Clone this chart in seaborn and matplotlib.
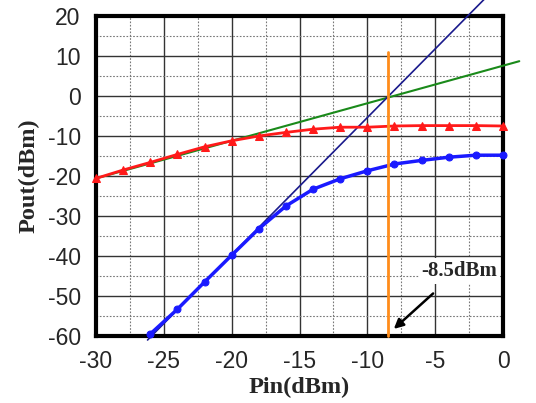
import matplotlib
matplotlib.use("Agg")
import matplotlib.pyplot as plt
import seaborn as sns
import numpy as np
from matplotlib.ticker import MultipleLocator

# ---- data ----
pin_red = [-30, -28, -26, -24, -22, -20, -18, -16, -14, -12, -10, -8, -6, -4, -2, 0]
pout_red = [-20.6, -18.5, -16.6, -14.6, -12.7, -11.2, -10.0, -9.1, -8.3, -7.8, -7.8, -7.5, -7.4, -7.4, -7.4, -7.5]

pin_blue = [-26, -24, -22, -20, -18, -16, -14, -12, -10, -8, -6, -4, -2, 0]
pout_blue = [-59.5, -53.3, -46.5, -39.8, -33.2, -27.5, -23.3, -20.7, -18.7, -17.0, -16.1, -15.3, -14.8, -14.8]

green_x = [-30, 1.2]
green_y = [-20.6, 8.7]
navy_x = [-26.2, -1.0]
navy_y = [-61.0, 25.5]
marker_x = [-8.5, -8.5]
marker_y = [-60, 11]

x_ticks = [-30, -25, -20, -15, -10, -5, 0]
y_ticks = [-60, -50, -40, -30, -20, -10, 0, 10, 20]
xlabel = "Pin(dBm)"
ylabel = "Pout(dBm)"
annot_text = "-8.5dBm"

sns.set_style("white")
plt.rcParams['font.family'] = ['Liberation Sans', 'DejaVu Sans']

fig = plt.figure(figsize=(5.36, 4.03), dpi=100)
ax = fig.add_axes([96/536, 1-336/403, (503-96)/536, (336-16)/403])

ax.set_xlim(-30, 0)
ax.set_ylim(-60, 20)

# grid
ax.xaxis.set_major_locator(MultipleLocator(5))
ax.xaxis.set_minor_locator(MultipleLocator(2.5))
ax.yaxis.set_major_locator(MultipleLocator(10))
ax.yaxis.set_minor_locator(MultipleLocator(5))
ax.grid(which='major', color='#333333', linewidth=1.0, linestyle='-')
ax.grid(which='minor', color='#777777', linewidth=0.8, linestyle=(0, (1.5, 1.5)))
ax.set_axisbelow(True)

sns.lineplot(x=green_x, y=green_y, ax=ax, color='#1a8a1a', linewidth=1.5, clip_on=False, zorder=3,
             estimator=None, sort=False)
sns.lineplot(x=navy_x, y=navy_y, ax=ax, color='#1a1a8c', linewidth=1.2, clip_on=False, zorder=3,
             estimator=None, sort=False)
sns.lineplot(x=pin_red, y=pout_red, ax=ax, color='#ff1a1a', linewidth=2.0, marker='^',
             markersize=5.5, markeredgecolor='#ff1a1a', clip_on=False, zorder=4, estimator=None)
sns.lineplot(x=pin_blue, y=pout_blue, ax=ax, color='#1a1aff', linewidth=2.5, marker='o',
             markersize=5, markeredgecolor='#1a1aff', clip_on=False, zorder=4, estimator=None)
sns.lineplot(x=marker_x, y=marker_y, ax=ax, color='#ff8c1a', linewidth=2.0, clip_on=False, zorder=5,
             estimator=None, sort=False)

ax.text(-3.2, -43.7, annot_text, ha='center', va='center', fontsize=15, fontweight='bold',
        family=['Liberation Serif'], bbox=dict(facecolor='white', edgecolor='none', pad=2), zorder=6)
ax.annotate("", xy=(-8.2, -58.7), xytext=(-5.0, -48.9),
            arrowprops=dict(arrowstyle='-|>', color='black', lw=1.8, mutation_scale=14), zorder=7)

ax.set_xticks(x_ticks)
ax.set_yticks(y_ticks)
ax.set_xticklabels([str(v) for v in x_ticks])
ax.set_yticklabels([str(v) for v in y_ticks])
ax.tick_params(which='major', direction='in', length=7, width=3, labelsize=16.5, color='black')
ax.tick_params(axis='x', which='major', pad=10)
ax.tick_params(axis='y', which='major', pad=11)
ax.tick_params(which='minor', direction='in', length=5, width=3, color='black')
ax.tick_params(axis='x', which='both', top=False)
ax.tick_params(axis='y', which='both', right=False)

for s in ax.spines.values():
    s.set_visible(True)
    s.set_linewidth(3)
    s.set_color('black')

ax.set_xlabel(xlabel, fontsize=17.5, fontweight='bold', family=['Liberation Serif'], labelpad=3)
ax.set_ylabel(ylabel, fontsize=17.5, fontweight='bold', family=['Liberation Serif'], labelpad=6)

fig.savefig("out.png", dpi=100)
